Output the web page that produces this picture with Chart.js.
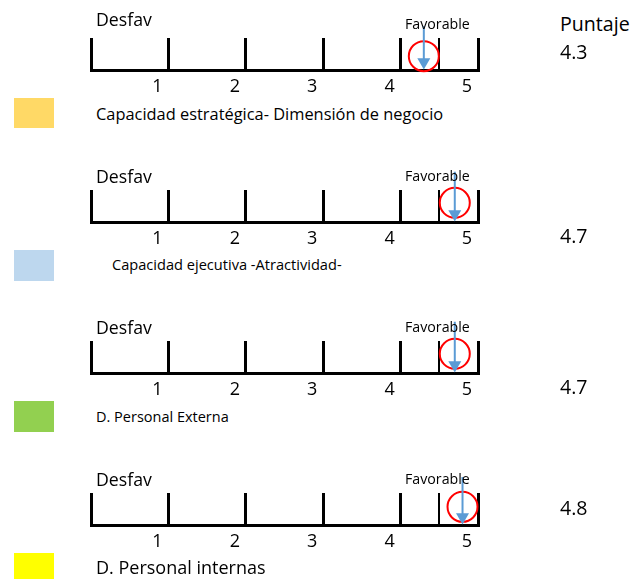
<!DOCTYPE html>
<html>
<head>
<meta charset="utf-8">
<script src="https://cdn.jsdelivr.net/npm/chart.js@4.4.1/dist/chart.umd.min.js"></script>
<style>
  body { margin: 0; background: #fff; }
  #page { position: relative; width: 634px; height: 579px; overflow: hidden; font-family: "Open Sans", Lato, sans-serif; color: #000; }
  .panel { position: absolute; left: 0; width: 634px; height: 114px; }
  .txt { position: absolute; white-space: nowrap; line-height: 1; }
  .swatch { position: absolute; left: 14px; width: 40px; }
</style>
</head>
<body>
<div id="page"></div>
<script>
// Scale runs 0..5 with a split mark at 4.5
const tickValues = [0, 1, 2, 3, 4, 4.5, 5];
const tickLabels = ['', '1', '2', '3', '4', '', '5'];
const categories = [
    'Capacidad estratégica- Dimensión de negocio',
    'Capacidad ejecutiva -Atractividad-',
    'D. Personal Externa',
    'D. Personal internas'
];
const scores = [4.3, 4.7, 4.7, 4.8];
const swatchColors = ['#FFD966', '#BDD7EE', '#92D050', '#FFFF00'];

// Layout of each panel (pixels)
const baselines = [68, 220, 371, 523];
const arrowRise = [41, 47, 48, 45];
const ringLift = [13, 18, 18, 17];
const scoreY = [52, 236, 387, 508];
const desfavY = [20, 177, 328, 480];
const captionLayout = [
    { x: 96, y: 115, size: 16.4 },
    { x: 112, y: 265, size: 14.6 },
    { x: 96, y: 418, size: 14.5 },
    { x: 96, y: 568, size: 18 }
];
const swatchBoxes = [[98, 30], [250, 31], [401, 31], [553, 26]];

const ARROW_BLUE = '#5B9BD5';
const page = document.getElementById('page');

function addText(str, x, cy, size) {
    const el = document.createElement('div');
    el.className = 'txt';
    el.textContent = str;
    el.style.left = x + 'px';
    el.style.top = (cy - size * 0.53) + 'px';
    el.style.fontSize = size + 'px';
    page.appendChild(el);
}

function buildPanel(i) {
    const base = baselines[i];
    const wrap = document.createElement('div');
    wrap.className = 'panel';
    wrap.style.top = (base - 80) + 'px';
    const canvas = document.createElement('canvas');
    canvas.width = 634;
    canvas.height = 114;
    wrap.appendChild(canvas);
    page.appendChild(wrap);

    new Chart(canvas, {
        type: 'scatter',
        data: {
            datasets: [
                {
                    // arrow shaft with a triangle head resting on the axis
                    type: 'line',
                    data: [{ x: scores[i], y: arrowRise[i] }, { x: scores[i], y: 7.5 }],
                    borderColor: ARROW_BLUE,
                    borderWidth: 2,
                    pointRadius: [0, 7.5],
                    pointStyle: 'triangle',
                    rotation: 180,
                    pointBackgroundColor: ARROW_BLUE,
                    pointBorderColor: ARROW_BLUE,
                    pointBorderWidth: 0,
                    clip: false
                },
                {
                    // red ring around the score
                    data: [{ x: scores[i], y: ringLift[i] }],
                    pointStyle: 'circle',
                    pointRadius: 15,
                    borderColor: '#FF0000',
                    borderWidth: 2,
                    backgroundColor: 'rgba(0,0,0,0)',
                    clip: false
                }
            ]
        },
        options: {
            responsive: false,
            animation: false,
            events: [],
            layout: { padding: { left: 91, right: 156, top: 50, bottom: 0 } },
            plugins: { legend: { display: false }, tooltip: { enabled: false } },
            scales: {
                x: {
                    type: 'linear',
                    min: 0,
                    max: 5,
                    afterBuildTicks: s => { s.ticks = tickValues.map(v => ({ value: v })); },
                    afterFit: s => { s.paddingLeft = 0; s.paddingRight = 0; },
                    grid: {
                        color: '#000',
                        lineWidth: c => (c.tick && c.tick.value === 4.5 ? 2 : 3),
                        drawTicks: false
                    },
                    border: { color: '#000', width: 3 },
                    ticks: {
                        autoSkip: false,
                        maxRotation: 0,
                        padding: 7,
                        labelOffset: -11,
                        color: '#000',
                        font: { family: 'Open Sans', size: 18, lineHeight: '20px' },
                        callback: (v, idx) => tickLabels[idx]
                    }
                },
                y: { display: false, min: 0, max: 30 }
            }
        }
    });

    addText('Desfav', 96, desfavY[i], 17.7);
    addText('Favorable', 405, base - 43, 14.2);
    addText(scores[i].toFixed(1), 560, scoreY[i], 19.6);
    const cap = captionLayout[i];
    addText(categories[i], cap.x, cap.y, cap.size);

    const sw = document.createElement('div');
    sw.className = 'swatch';
    sw.style.top = swatchBoxes[i][0] + 'px';
    sw.style.height = swatchBoxes[i][1] + 'px';
    sw.style.background = swatchColors[i];
    page.appendChild(sw);
}

addText('Puntaje', 560, 24, 19.6);
categories.forEach((c, i) => buildPanel(i));
</script>
</body>
</html>
